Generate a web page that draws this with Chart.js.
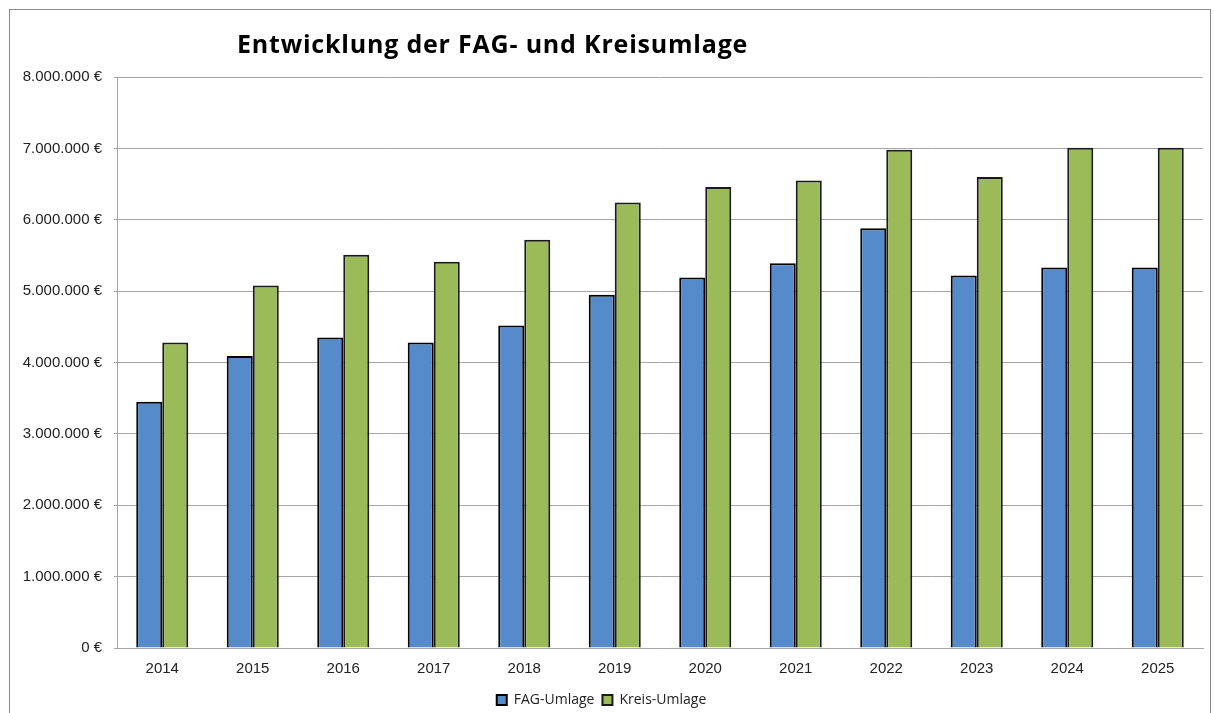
<!DOCTYPE html>
<html>
<head>
<meta charset="utf-8">
<script src="https://cdn.jsdelivr.net/npm/chart.js@4.4.0/dist/chart.umd.min.js"></script>
<style>
  body { margin: 0; background: #fff; }
  #wrap { position: relative; width: 1214px; height: 713px; overflow: hidden; }
  #frame { position: absolute; left: 9px; top: 9px; width: 1200px; height: 720px; border: 1px solid #8c8c8c; }
  #title { position: absolute; left: 237px; top: 31px; font-family: "Open Sans", sans-serif; font-weight: bold; font-size: 25px; line-height: 25px; letter-spacing: 0.8px; color: #000; white-space: nowrap; }
  canvas { position: absolute; left: 0; top: 0; }
</style>
</head>
<body>
<div id="wrap">
  <div id="frame"></div>
  <canvas id="chart" width="1214" height="713"></canvas>
  <div id="title">Entwicklung der FAG- und Kreisumlage</div>
</div>
<script>
const years = ['2014', '2015', '2016', '2017', '2018', '2019', '2020', '2021', '2022', '2023', '2024', '2025'];
const fagUmlage = [3450000, 4090000, 4350000, 4280000, 4520000, 4950000, 5190000, 5390000, 5880000, 5220000, 5330000, 5330000];
const kreisUmlage = [4280000, 5080000, 5510000, 5410000, 5720000, 6240000, 6460000, 6550000, 6980000, 6600000, 7010000, 7010000];

const ctx = document.getElementById('chart').getContext('2d');

// Format like "8.000.000 €"
function euro(value) {
    return value.toString().replace(/\B(?=(\d{3})+(?!\d))/g, '.') + ' €';
}

const chart = new Chart(ctx, {
    type: 'bar',
    data: {
        labels: years,
        datasets: [{
            label: 'FAG-Umlage',
            data: fagUmlage,
            backgroundColor: '#558bcb',
            borderColor: '#000000',
            borderWidth: 2
        }, {
            label: 'Kreis-Umlage',
            data: kreisUmlage,
            backgroundColor: '#9bbb59',
            borderColor: '#1a1a1a',
            borderWidth: 2
        }]
    },
    options: {
        responsive: false,
        animation: false,
        categoryPercentage: 0.575,
        barPercentage: 1.0,
        layout: {
            padding: { left: 0, right: 11, top: 77, bottom: -4 }
        },
        plugins: {
            title: { display: false },
            tooltip: { enabled: false },
            legend: {
                position: 'bottom',
                labels: {
                    boxWidth: 10,
                    boxHeight: 10,
                    padding: 8,
                    color: '#222',
                    font: { family: '"Open Sans", sans-serif', size: 14 }
                }
            }
        },
        scales: {
            x: {
                grid: { display: false },
                border: { color: '#a6a6a6', width: 1 },
                ticks: {
                    color: '#222',
                    padding: 4,
                    font: { family: 'Arial, "Liberation Sans", sans-serif', size: 15 }
                },
                afterFit: function(scale) { scale.height = 37; }
            },
            y: {
                min: 0,
                max: 8000000,
                grid: { color: '#a6a6a6', lineWidth: 1, tickLength: 3 },
                border: { color: '#a6a6a6', width: 1 },
                ticks: {
                    stepSize: 1000000,
                    color: '#222',
                    padding: 12,
                    font: { family: 'Arial, "Liberation Sans", sans-serif', size: 15 },
                    callback: function(value) { return euro(value); }
                },
                afterFit: function(scale) { scale.width = 117; }
            }
        }
    }
});
</script>
</body>
</html>
